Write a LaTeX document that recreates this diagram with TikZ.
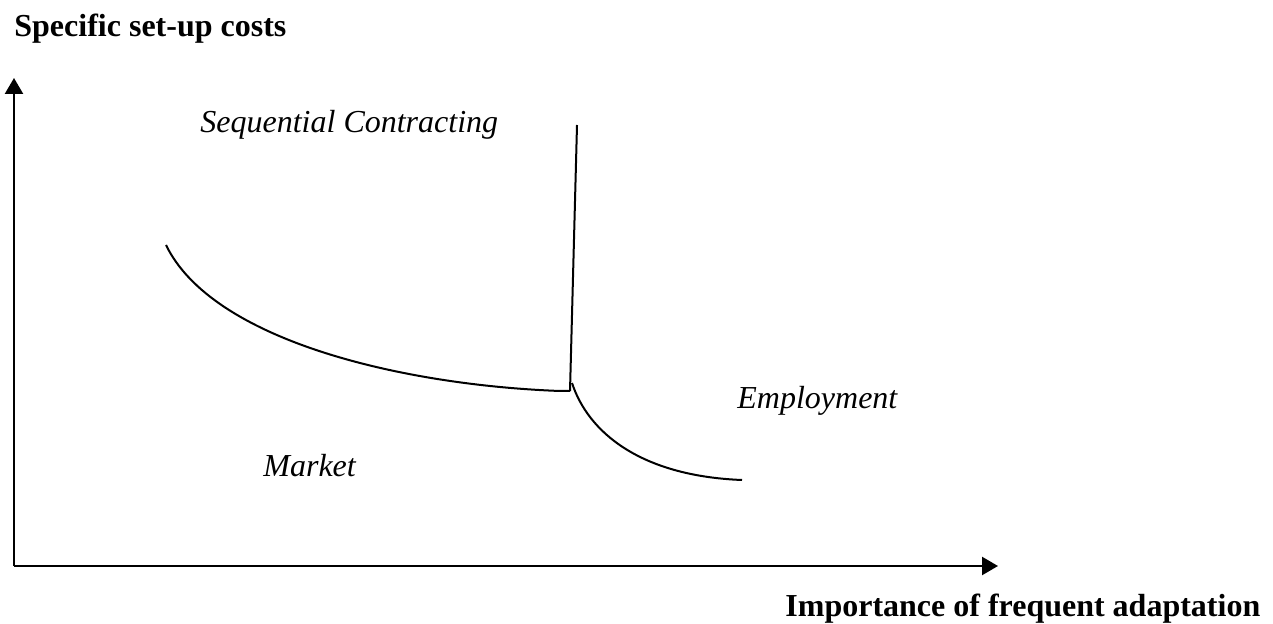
\documentclass[tikz,border=0pt]{standalone}
\usepackage{fontspec}
\setmainfont{Liberation Serif}
\usepackage{tikz}
\usetikzlibrary{arrows.meta}

\begin{document}
\begin{tikzpicture}[x=0.5pt, y=-0.5pt,
    lbl/.style={anchor=base west, inner sep=0pt, font=\fontsize{16}{19}\selectfont},
    axis/.style={line width=1.2pt, -{Triangle[length=8pt, width=9pt]}},
    curve/.style={line width=1pt}]
    \useasboundingbox (0, 0) rectangle (1273, 624);

    % Axes
    \coordinate (origin) at (14, 566);
    \coordinate (ytop) at (14, 78);
    \coordinate (xend) at (998, 566);
    \draw[axis] (origin) -- (ytop);
    \draw[axis] (origin) -- (xend);

    % Axis titles
    \node[lbl, font=\fontsize{16}{19}\selectfont\bfseries] (ylabel) at (14, 37) {Specific set-up costs};
    \node[lbl, font=\fontsize{16}{19}\selectfont\bfseries] (xlabel) at (785, 616) {Importance of frequent adaptation};

    % Regions
    \node[lbl] (seq) at (200, 133) {\itshape Sequential Contracting};
    \node[lbl] (emp) at (737, 409) {\itshape Employment};
    \node[lbl] (mkt) at (263, 477) {\itshape Market};

    % Boundaries
    \coordinate (kink) at (570, 391);
    \coordinate (vtop) at (577, 125);
    \draw[curve] (166, 245) .. controls (212, 340) and (400, 385) .. (560, 391) -- (kink);
    \draw[curve] (kink) -- (vtop);
    \draw[curve] (572, 383) .. controls (588, 432) and (640, 476) .. (742, 480);
\end{tikzpicture}
\end{document}
